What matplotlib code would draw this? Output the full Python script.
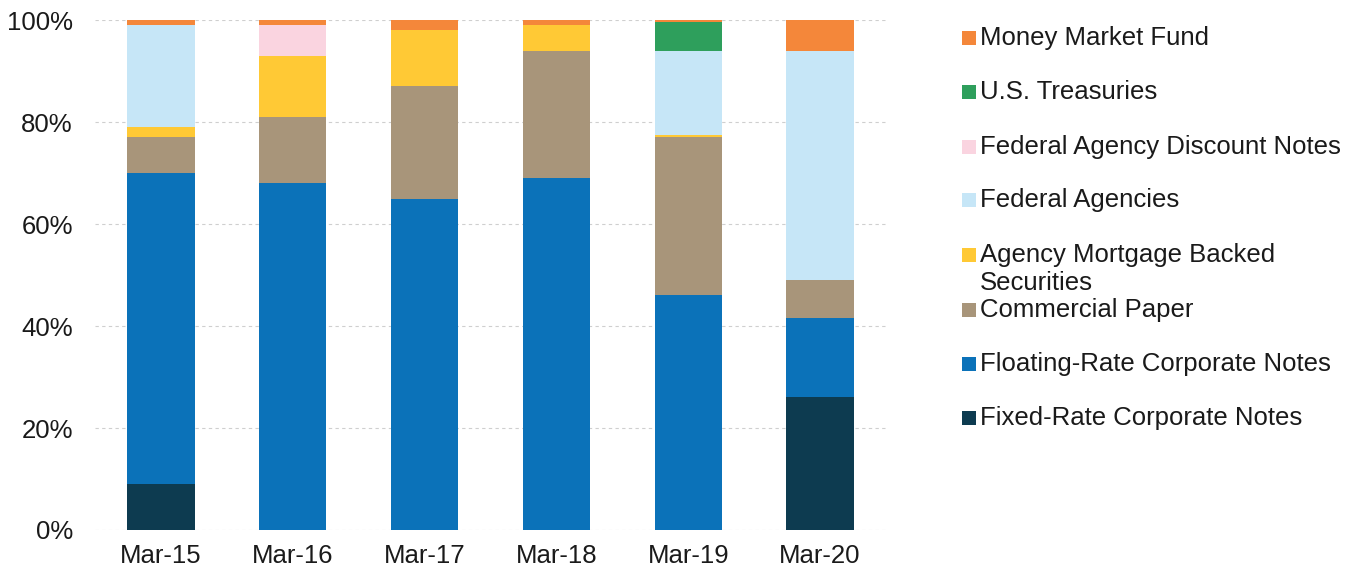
import matplotlib
matplotlib.use("Agg")
import matplotlib.pyplot as plt
import numpy as np
from matplotlib.patches import Rectangle

plt.rcParams['font.family'] = ['Liberation Sans', 'DejaVu Sans']

# Portfolio composition by quarter (% of total)
dates = ['Mar-15', 'Mar-16', 'Mar-17', 'Mar-18', 'Mar-19', 'Mar-20']
fixed_rate = [9, 0, 0, 0, 0, 26]
floating_rate = [61, 68, 65, 69, 46, 15.5]
commercial_paper = [7, 13, 22, 25, 31, 7.5]
agency_mbs = [2, 12, 11, 5, 0.5, 0]
federal_agencies = [20, 0, 0, 0, 16.5, 45]
agency_discount = [0, 6, 0, 0, 0, 0]
treasuries = [0, 0, 0, 0, 5.7, 0]
money_market = [1, 1, 2, 1, 0.3, 6]

series = [
    ('Fixed-Rate Corporate Notes', fixed_rate, '#0d3b50'),
    ('Floating-Rate Corporate Notes', floating_rate, '#0b72b9'),
    ('Commercial Paper', commercial_paper, '#a8957a'),
    ('Agency Mortgage Backed\nSecurities', agency_mbs, '#ffc935'),
    ('Federal Agencies', federal_agencies, '#c6e6f7'),
    ('Federal Agency Discount Notes', agency_discount, '#fad4e0'),
    ('U.S. Treasuries', treasuries, '#2e9f5c'),
    ('Money Market Fund', money_market, '#f4873a'),
]

fig = plt.figure(figsize=(13.61, 5.77), dpi=100)
ax = fig.add_axes([0.0698, 0.0815, 0.5812, 0.8835])

x = np.arange(len(dates))
bottom = np.zeros(len(dates))
for name, vals, color in series:
    vals = np.array(vals, dtype=float)
    ax.bar(x, vals, width=0.51, bottom=bottom, color=color, zorder=3)
    bottom += vals

ax.set_xlim(-0.5, len(dates) - 0.5)
ax.set_ylim(0, 100)
ax.set_yticks(range(0, 101, 20))
ax.set_yticklabels([f'{v}%' for v in range(0, 101, 20)])
ax.set_xticks(x)
ax.set_xticklabels(dates)
ax.tick_params(axis='both', length=0, labelsize=18.5, colors='#1a1a1a')
ax.tick_params(axis='y', pad=16)
ax.tick_params(axis='x', pad=10)
ax.yaxis.grid(True, color='#cfcfcf', linestyle=(0, (3, 3)), linewidth=0.8, zorder=0)
for s in ax.spines.values():
    s.set_visible(False)

# Legend, top entry first, fixed row spacing
row_y = [38, 92, 147, 200, 255, 310, 364, 418]
for (name, vals, color), yp in zip(reversed(series), row_y):
    fy = 1 - yp / 577
    fig.patches.append(Rectangle((962 / 1361, fy - 7 / 577), 14 / 1361, 14 / 577,
                                 transform=fig.transFigure, facecolor=color,
                                 edgecolor='none'))
    first = name.split('\n')
    fig.text(980 / 1361, fy, first[0], fontsize=18.5, color='#1a1a1a',
             va='center', ha='left')
    if len(first) > 1:
        fig.text(980 / 1361, 1 - (yp + 28) / 577, first[1], fontsize=18.5,
                 color='#1a1a1a', va='center', ha='left')

fig.savefig('out.png', dpi=100)
